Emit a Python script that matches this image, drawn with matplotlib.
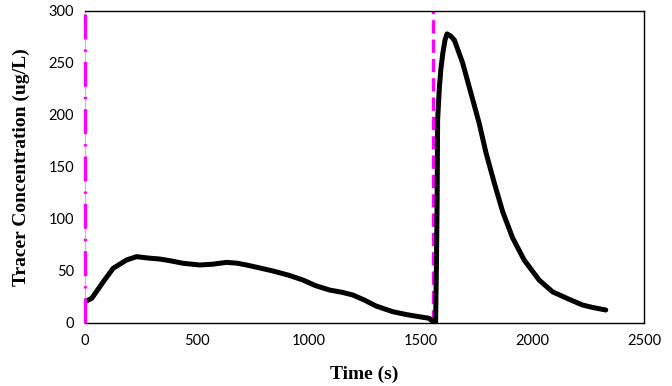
import matplotlib.pyplot as plt

# tracer breakthrough readings
time_s = [0, 30, 82, 126, 186, 231, 280, 335, 390, 439, 513, 570, 633, 680,
          722, 780, 841, 910, 975, 1030, 1094, 1150, 1198, 1250, 1302, 1376,
          1440, 1496, 1540, 1555, 1568, 1572, 1575, 1577, 1585, 1592, 1600,
          1610, 1619, 1635, 1652, 1689, 1726, 1763, 1793, 1830, 1868, 1912,
          1964, 2031, 2091, 2165, 2225, 2269, 2329]
conc = [20.5, 23.7, 39.7, 52.6, 60.6, 63.8, 62.5, 61.5, 59.5, 57.4, 55.8,
        56.5, 58.3, 57.5, 55.8, 53, 50, 46, 41.3, 36, 31.7, 29.5, 26.9, 22,
        16.3, 10.9, 8, 6, 4.5, 1.2, 0, 60, 121, 195, 227, 245, 259, 272, 278,
        276, 272, 250, 221, 192, 164, 135, 107, 82, 60.6, 41.3, 30, 22.8,
        17.3, 15, 12.5]

# injection markers
inject_1 = 0
inject_2 = 1555

xticks = [0, 500, 1000, 1500, 2000, 2500]
yticks = [0, 50, 100, 150, 200, 250, 300]

fig = plt.figure(figsize=(6.72, 3.86), dpi=100)
ax = fig.add_axes([85/672, 1 - 323/386, 559/672, 312/386])

ax.plot([inject_1, inject_1], [0, 300], color='#ff00ff', lw=2.4,
        dashes=(7.5, 3, 0.7, 3), zorder=4, clip_on=False)
ax.plot([inject_2, inject_2], [0, 300], color='#ff00ff', lw=2.4,
        dashes=(4, 1.8), zorder=2)
ax.plot(time_s, conc, color='black', lw=3.6, solid_capstyle='round',
        solid_joinstyle='round', zorder=3)

ax.set_xlim(0, 2500)
ax.set_ylim(0, 300)
ax.set_xticks(xticks)
ax.set_yticks(yticks)
ax.tick_params(length=0, labelsize=10.5, pad=8)
for lab in ax.get_xticklabels() + ax.get_yticklabels():
    lab.set_family('Lato')

ax.spines['left'].set_color('#bfbfbf')
for s in ['top', 'right', 'bottom']:
    ax.spines[s].set_color('black')
    ax.spines[s].set_linewidth(1.0)

ax.set_xlabel('Time (s)', family='Liberation Serif', fontweight='bold',
              fontsize=14, labelpad=13)
ax.set_ylabel('Tracer Concentration (ug/L)', family='Liberation Serif',
              fontweight='bold', fontsize=14, labelpad=13)

fig.savefig('out.png', dpi=100)
